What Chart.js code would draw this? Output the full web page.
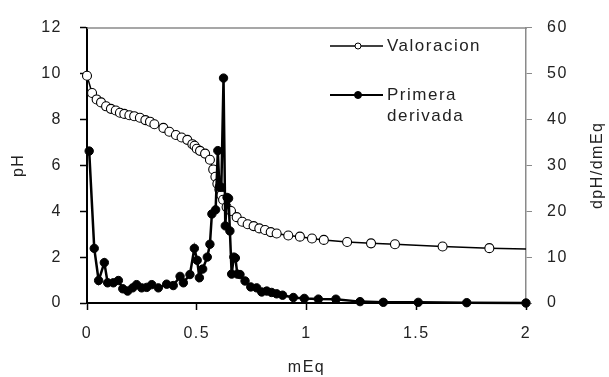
<!DOCTYPE html>
<html>
<head>
<meta charset="utf-8">
<script src="https://cdn.jsdelivr.net/npm/chart.js@4"></script>
<style>
  html, body { margin: 0; padding: 0; background: #fff; }
  #wrap { width: 609px; height: 377px; }
</style>
</head>
<body>
<div id="wrap"><canvas id="chart" width="609" height="377"></canvas></div>
<script>
// Valoracion (pH vs mEq)
const valX  = [0, 0.023, 0.044, 0.064, 0.087, 0.109, 0.131, 0.150, 0.170, 0.193, 0.215, 0.241, 0.266, 0.287, 0.307,
               0.348, 0.375, 0.405, 0.431, 0.457, 0.480, 0.490, 0.500, 0.515, 0.538, 0.560, 0.575, 0.585, 0.594, 0.603,
               0.612, 0.620, 0.636, 0.656, 0.682, 0.707, 0.732, 0.759, 0.785, 0.811, 0.837, 0.864, 0.917, 0.970, 1.025,
               1.079, 1.185, 1.294, 1.403, 1.620, 1.833, 2.0];
const valPH = [9.9, 9.15, 8.87, 8.74, 8.57, 8.46, 8.39, 8.29, 8.24, 8.18, 8.14, 8.07, 7.97, 7.90, 7.79,
               7.63, 7.46, 7.32, 7.21, 7.11, 6.92, 6.85, 6.72, 6.63, 6.51, 6.24, 5.82, 5.5, 5.2, 4.95,
               4.7, 4.5, 4.18, 4.01, 3.74, 3.54, 3.43, 3.35, 3.25, 3.18, 3.09, 3.03, 2.94, 2.89, 2.81,
               2.75, 2.66, 2.60, 2.56, 2.46, 2.39, 2.35];

// Primera derivada (dpH/dmEq vs mEq)
const derX = [0.010, 0.033, 0.053, 0.079, 0.094, 0.120, 0.143, 0.163, 0.185, 0.208, 0.226, 0.249, 0.272, 0.295, 0.325,
              0.363, 0.393, 0.424, 0.439, 0.469, 0.489, 0.502, 0.512, 0.527, 0.548, 0.560, 0.569, 0.586, 0.596, 0.603,
              0.612, 0.622, 0.630, 0.638, 0.645, 0.651, 0.659, 0.669, 0.676, 0.685, 0.697, 0.720, 0.746, 0.773, 0.796,
              0.819, 0.841, 0.864, 0.891, 0.940, 0.990, 1.054, 1.134, 1.244, 1.350, 1.509, 1.730, 2.000];
const derD = [33.1, 11.9, 4.9, 8.8, 4.4, 4.4, 4.9, 3.1, 2.6, 3.3, 4.0, 3.3, 3.4, 4.0, 3.3,
              4.1, 3.8, 5.8, 4.4, 6.2, 11.9, 9.3, 5.5, 7.4, 10.0, 12.8, 19.4, 20.3, 33.2, 25.3,
              25.2, 49.0, 16.8, 23.0, 22.8, 15.7, 6.3, 10.0, 9.8, 6.3, 6.2, 4.8, 3.5, 3.3, 2.4,
              2.6, 2.3, 2.0, 1.7, 1.2, 1.0, 0.85, 0.83, 0.3, 0.15, 0.14, 0.07, 0.0];

const xTicks  = [0, 0.5, 1, 1.5, 2];
const phTicks = [0, 2, 4, 6, 8, 10, 12];
const dTicks  = [0, 10, 20, 30, 40, 50, 60];

const seriesNames = ["Valoracion", ["Primera", "derivada"]];
const rightTitle = "dpH/dmEq";

const FONT = "'Liberation Sans', Arial, sans-serif";
const TXT = "#222";
const SPACING = "1.5px";

const pts = (xs, ys) => xs.map((x, i) => ({ x, y: ys[i] }));

// keep letter spacing on the context (canvas resets it on resize)
const spacingPlugin = {
  id: "spacing",
  beforeUpdate(chart) { chart.ctx.letterSpacing = SPACING; },
  beforeLayout(chart) { chart.ctx.letterSpacing = SPACING; },
  beforeDraw(chart) { chart.ctx.letterSpacing = SPACING; }
};

// top border, right axis title and the legend
const extrasPlugin = {
  id: "extras",
  afterDraw(chart) {
    const { ctx, chartArea: a } = chart;
    ctx.save();
    ctx.letterSpacing = SPACING;
    ctx.strokeStyle = "#8a8a8a";
    ctx.lineWidth = 1.5;
    ctx.beginPath();
    ctx.moveTo(a.left, a.top + 0.5);
    ctx.lineTo(a.right + 1, a.top + 0.5);
    ctx.stroke();

    // right axis title, reads bottom to top
    ctx.fillStyle = TXT;
    ctx.font = "16px " + FONT;
    ctx.textAlign = "center";
    ctx.textBaseline = "middle";
    ctx.translate(598, (a.top + a.bottom) / 2);
    ctx.rotate(-Math.PI / 2);
    ctx.fillText(rightTitle, 0, 0);
    ctx.restore();

    // legend
    ctx.save();
    ctx.letterSpacing = "1.5px";
    ctx.font = "17px " + FONT;
    ctx.textAlign = "left";
    ctx.textBaseline = "middle";
    const lx0 = 330, lx1 = 383, tx = 387;
    const rows = [46, 95];
    seriesNames.forEach((name, i) => {
      const y = rows[i];
      ctx.strokeStyle = "#000";
      ctx.lineWidth = i === 0 ? 1.5 : 2;
      ctx.beginPath();
      ctx.moveTo(lx0, y);
      ctx.lineTo(lx1, y);
      ctx.stroke();
      ctx.beginPath();
      ctx.arc(358, y, i === 0 ? 3 : 3.5, 0, Math.PI * 2);
      ctx.fillStyle = i === 0 ? "#fff" : "#000";
      ctx.fill();
      ctx.lineWidth = 1;
      ctx.stroke();
      ctx.fillStyle = TXT;
      const lines = Array.isArray(name) ? name : [name];
      lines.forEach((t, j) => ctx.fillText(t, tx, y + j * 21));
    });
    ctx.restore();
  }
};

new Chart(document.getElementById("chart"), {
  type: "scatter",
  data: {
    datasets: [
      {
        label: "Primera derivada",
        data: pts(derX, derD),
        yAxisID: "y1",
        showLine: true,
        borderColor: "#000",
        backgroundColor: "#000",
        borderWidth: 2.5,
        pointRadius: 4.2,
        pointBorderWidth: 1,
        pointBackgroundColor: "#000",
        clip: false,
        order: 0
      },
      {
        label: "Valoracion",
        data: pts(valX, valPH),
        yAxisID: "y",
        showLine: true,
        borderColor: "#000",
        backgroundColor: "#fff",
        borderWidth: 1.5,
        pointRadius: valX.map((_, i) => (i === valX.length - 1 ? 0 : 4.5)),
        pointBorderWidth: 1.1,
        pointBackgroundColor: "#fff",
        pointBorderColor: "#000",
        clip: false,
        order: 1
      }
    ]
  },
  options: {
    responsive: false,
    animation: false,
    layout: { padding: { top: 15, left: 0, right: 0, bottom: 0 } },
    plugins: { legend: { display: false }, tooltip: { enabled: false } },
    scales: {
      x: {
        type: "linear",
        min: 0, max: 2,
        afterBuildTicks: s => { s.ticks = xTicks.map(v => ({ value: v })); },
        afterFit: s => { s.height = 74; },
        border: { color: "#000", width: 2 },
        grid: { drawOnChartArea: false, drawTicks: true, tickLength: 7, color: "#000", tickWidth: 1.5 },
        ticks: { color: TXT, font: { family: FONT, size: 16 }, padding: 14, callback: v => String(v) },
        title: { display: true, text: "mEq", color: TXT, font: { family: FONT, size: 16 }, padding: { top: 0, bottom: 0 } }
      },
      y: {
        position: "left",
        min: 0, max: 12,
        afterBuildTicks: s => { s.ticks = phTicks.map(v => ({ value: v })); },
        afterFit: s => { s.width = 87; },
        border: { color: "#000", width: 2 },
        grid: { drawOnChartArea: false, drawTicks: true, tickLength: 7, color: "#000", tickWidth: 1.5 },
        ticks: { color: TXT, font: { family: FONT, size: 16 }, padding: 18, callback: v => String(v) },
        title: { display: true, text: "pH", color: TXT, font: { family: FONT, size: 16 }, padding: { top: 9, bottom: 0 } }
      },
      y1: {
        position: "right",
        min: 0, max: 60,
        afterBuildTicks: s => { s.ticks = dTicks.map(v => ({ value: v })); },
        afterFit: s => { s.width = 83; },
        border: { color: "#8a8a8a", width: 1.5 },
        grid: { drawOnChartArea: false, drawTicks: true, tickLength: 6, color: "#8a8a8a" },
        ticks: { color: TXT, font: { family: FONT, size: 16 }, padding: 15, callback: v => String(v) }
      }
    }
  },
  plugins: [spacingPlugin, extrasPlugin]
});
</script>
</body>
</html>
